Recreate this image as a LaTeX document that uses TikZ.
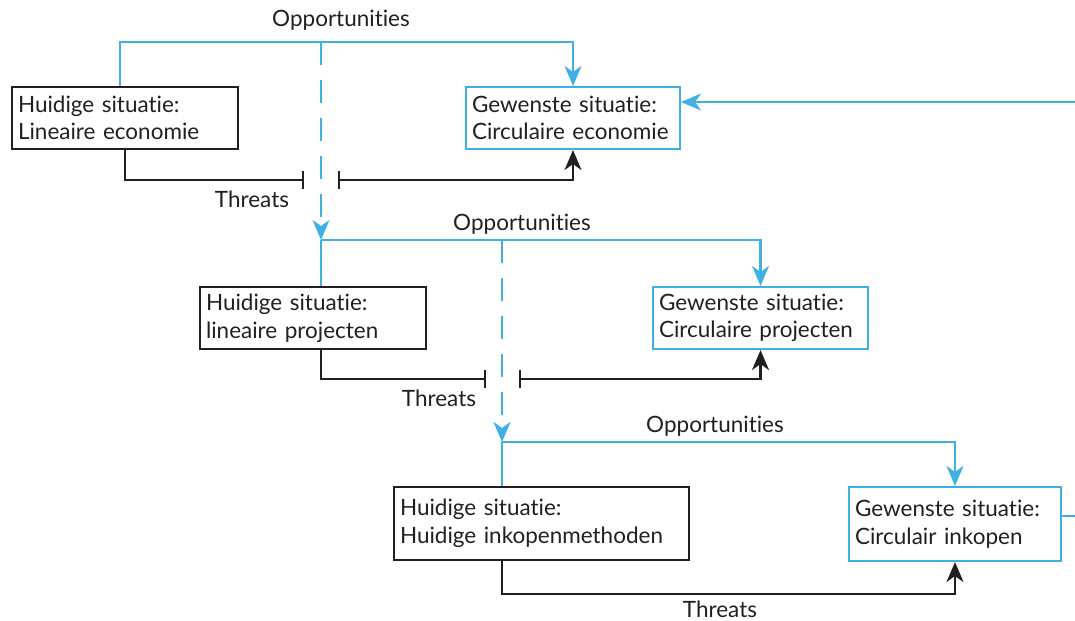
\documentclass[tikz,border=0pt]{standalone}
\usepackage{fontspec}
\setmainfont{Lato}[Ligatures={NoCommon,NoRequired,NoContextual}]
\definecolor{oppblue}{RGB}{64, 176, 228}
\definecolor{darkline}{RGB}{35, 31, 32}
\usetikzlibrary{arrows.meta, positioning, calc}

\begin{document}
\begin{tikzpicture}[x=0.02cm, y=-0.02cm,
  every node/.style={font=\fontsize{12.8}{15.7}\selectfont, text=darkline},
  nowbox/.style={draw=darkline, line width=1.2pt, align=left, inner xsep=0.12cm, inner ysep=0pt, minimum height=1.24cm},
  goalbox/.style={draw=oppblue, line width=1.2pt, align=left, inner xsep=0.12cm, inner ysep=0pt, minimum height=1.24cm},
  opp/.style={draw=oppblue, line width=1.2pt},
  oppdash/.style={opp, dash pattern=on 0.46cm off 0.3cm},
  thr/.style={draw=darkline, line width=1.2pt},
  bluetip/.style={-{Stealth[length=0.4cm, width=0.34cm, inset=0.12cm]}},
  blacktip/.style={-{Stealth[length=0.4cm, width=0.34cm, inset=0.12cm]}},
  barend/.style={-{Bar[width=0.36cm]}},
  barstart/.style={{Bar[width=0.36cm]}-{Stealth[length=0.4cm, width=0.34cm, inset=0.12cm]}}
]
  \useasboundingbox (0,0) rectangle (1075,621);

  % Economie
  \node[nowbox, text width=4.28cm] (lineco) at (125,118) {Huidige situatie:\\Lineaire economie};
  \node[goalbox, text width=4.04cm] (circeco) at (573,118) {Gewenste situatie:\\Circulaire economie};
  \coordinate (split1) at (321,42);
  \coordinate (gap1l) at (304,180);
  \coordinate (gap1r) at (338,180);
  \node (opp1) at (341,20) {Opportunities};
  \node (thr1) at (252,199) {Threats};

  \draw[opp, bluetip] ([xshift=-0.1cm]lineco.north) |- (split1) -| (circeco.north);
  \draw[thr, barend] (lineco.south) |- (gap1l);
  \draw[thr, barstart] (gap1r) -| (circeco.south);

  % Projecten
  \coordinate (split2) at (321,240);
  \node[nowbox, text width=4.28cm] (linproj) at (313,318) {Huidige situatie:\\lineaire projecten};
  \node[goalbox, text width=4.06cm] (circproj) at (760.5,318) {Gewenste situatie:\\Circulaire projecten};
  \coordinate (gap2l) at (486,379);
  \coordinate (gap2r) at (519,379);
  \node (opp2) at (522,224) {Opportunities};
  \node (thr2) at (439,398) {Threats};

  \draw[oppdash, bluetip] (split1) -- (split2);
  \draw[opp] (split2) -- (split2 |- linproj.north);
  \draw[opp, bluetip] (split2) -| (circproj.north);
  \draw[thr, barend] (split2 |- linproj.south) |- (gap2l);
  \draw[thr, barstart] (gap2r) -| (circproj.south);

  % Inkopen
  \coordinate (split3) at (502,442);
  \node[nowbox, text width=5.66cm, minimum height=1.46cm] (huidink) at (541.5,523.5) {Huidige situatie:\\Huidige inkopenmethoden};
  \node[goalbox, text width=4.0cm, minimum height=1.48cm] (circink) at (955,524) {Gewenste situatie:\\Circulair inkopen};
  \coordinate (thr3c) at (955,594);
  \node (opp3) at (715,426) {Opportunities};
  \node (thr3) at (720,609) {Threats};

  \draw[oppdash, bluetip] (split3 |- split2) -- (split3);
  \draw[opp] (split3) -- (split3 |- huidink.north);
  \draw[opp, bluetip] (split3) -| (circink.north);
  \draw[thr, blacktip] (split3 |- huidink.south) |- (thr3c) -- (circink.south);

  % terugkoppeling
  \coordinate (back1) at (1075,102);
  \coordinate (back3) at (1075,516);
  \draw[opp] (back3 -| circink.east) -- (back3);
  \draw[opp, bluetip] (back1) -- (back1 -| circeco.east);
\end{tikzpicture}
\end{document}
